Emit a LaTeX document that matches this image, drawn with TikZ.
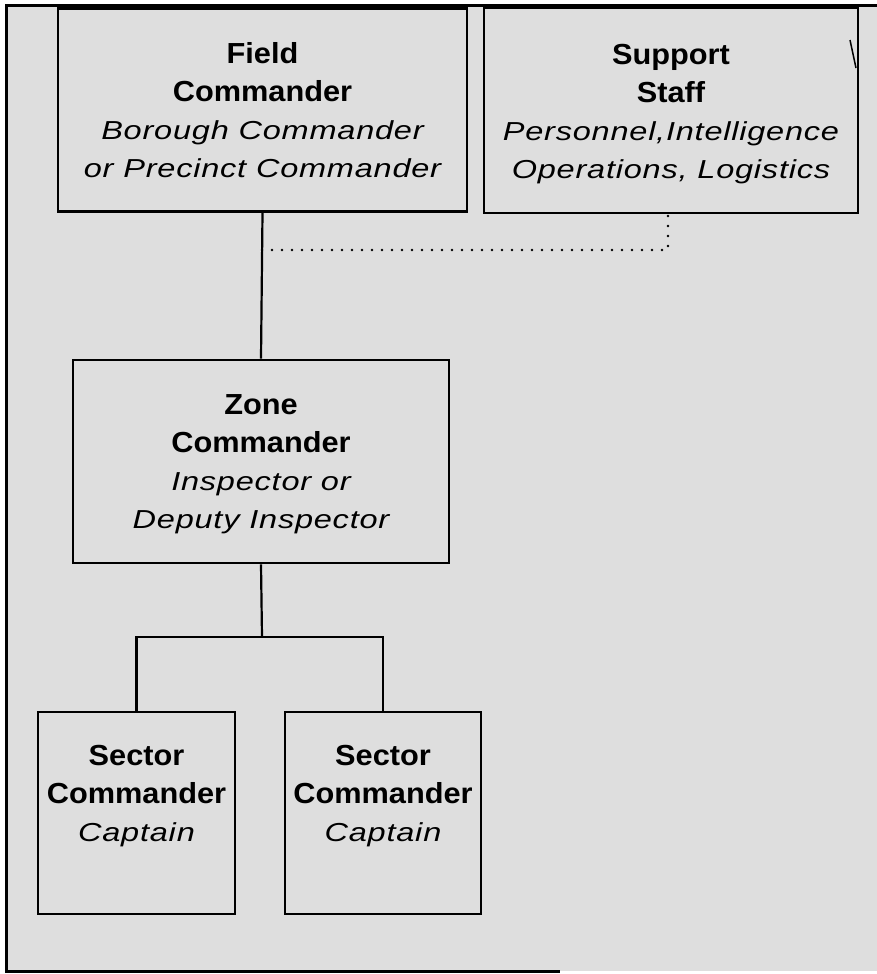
\documentclass[tikz,border=0pt]{standalone}
\usepackage{fontspec}
\setmainfont{Liberation Sans}
\newfontfamily\bfam[FakeStretch=1.06]{Liberation Sans}
\newfontfamily\ifam[FakeStretch=1.25,LetterSpace=3]{Liberation Sans}
\newcommand{\Bl}[1]{{\bfam\bfseries\fontsize{29}{38}\selectfont #1}}
\newcommand{\Il}[1]{{\ifam\itshape\fontsize{26}{38}\selectfont #1}}
\begin{document}
\begin{tikzpicture}[x=1pt,y=-1pt,
  box/.style={draw=black,line width=2.8pt,fill=black!13,inner sep=0pt},
  txt/.style={align=center,inner sep=0pt,anchor=north,font=\fontsize{29}{38}\selectfont},
  link/.style={draw=black,line width=2.2pt},
  dotline/.style={draw=black,line width=2.8pt,line cap=round,dash pattern=on 0pt off 10pt},
  frame/.style={draw=black,line width=3pt}]
\useasboundingbox (0,0) rectangle (877,974);
% background
\fill[black!13] (6,6) rectangle (877,971);
% outer frame
\draw[frame] (877,6) -- (6,6) -- (6,971) -- (560,971);
% boxes
\node[box,minimum width=409pt,minimum height=203pt] (fc) at (262.5,110) {};
\node[box,minimum width=374pt,minimum height=205pt] (ss) at (671,110.5) {};
\node[box,minimum width=376pt,minimum height=203pt] (zc) at (261,461.5) {};
\node[box,minimum width=197pt,minimum height=202pt] (s1) at (136.5,813) {};
\node[box,minimum width=196pt,minimum height=202pt] (s2) at (383,813) {};
% texts
\node[txt] (fct) at (262.5,42) {\Bl{Field}\\\Bl{Commander}\\\Il{Borough Commander}\\\Il{or Precinct Commander}};
\node[txt] (sst) at (671,44) {\Bl{Support}\\\Bl{Staff}\\\Il{Personnel,Intelligence}\\\Il{Operations, Logistics}};
\node[txt] (zct) at (261,394) {\Bl{Zone}\\\Bl{Commander}\\\Il{Inspector or}\\\Il{Deputy Inspector}};
\node[txt] (s1t) at (136.5,745) {\Bl{Sector}\\\Bl{Commander}\\\Il{Captain}};
\node[txt] (s2t) at (383,745) {\Bl{Sector}\\\Bl{Commander}\\\Il{Captain}};
% connectors
\coordinate (bar) at (262,637);
\coordinate (dj) at (262,250);
\coordinate (dk) at (668,213);
\draw[link] (fc.south) -- (zc.north);
\draw[link] (zc.south) -- (bar);
\draw[link] (s1.north) |- (bar) -| (s2.north);
\draw[dotline] (dj) -| (dk);
% stray mark at right edge of support box
\coordinate (m1) at (850,40);
\coordinate (m2) at (856,68);
\draw[black,line width=1.5pt] (m1) -- (m2);
\end{tikzpicture}
\end{document}
